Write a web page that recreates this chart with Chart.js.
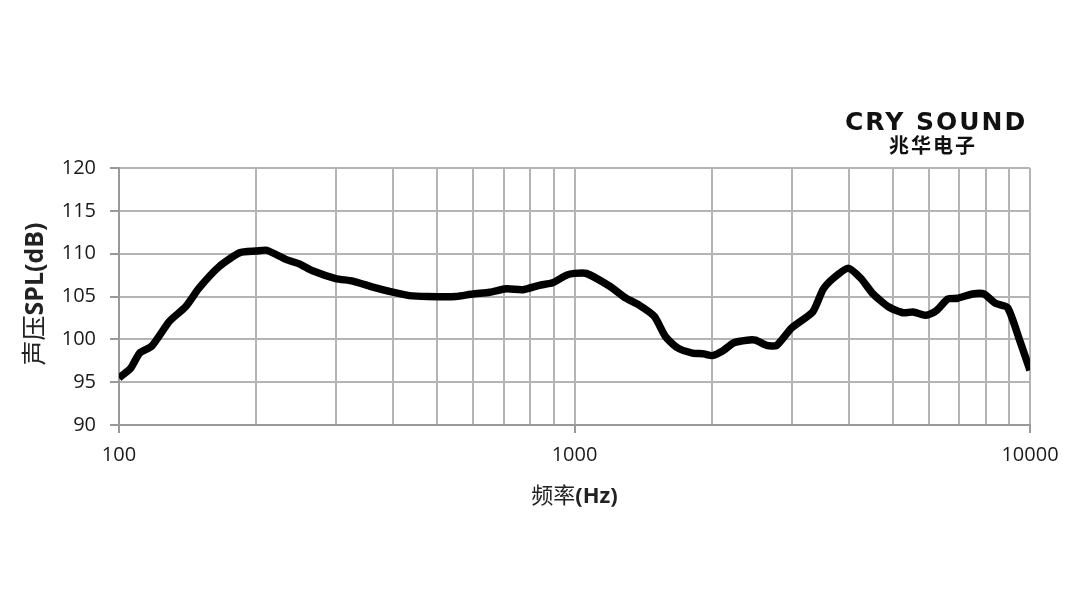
<!DOCTYPE html>
<html>
<head>
<meta charset="utf-8">
<script src="https://cdn.jsdelivr.net/npm/chart.js@4/dist/chart.umd.min.js"></script>
<style>
  html, body { margin: 0; padding: 0; background: #fff; }
  #wrap { position: relative; width: 1078px; height: 602px; }
  .logo1 { position: absolute; left: 845px; top: 107px; font-family: "DejaVu Sans", sans-serif; font-weight: bold;
           font-size: 25px; line-height: 30px; letter-spacing: 2px; color: #111; white-space: nowrap; }
  .logo2 { position: absolute; left: 889px; top: 133px; font-family: "Noto Sans CJK SC", sans-serif; font-weight: bold;
           font-size: 20px; line-height: 24px; letter-spacing: 2px; color: #111; white-space: nowrap; }
</style>
</head>
<body>
<div id="wrap">
  <canvas id="fr" width="1078" height="602"></canvas>
  <div class="logo1">CRY SOUND</div>
  <div class="logo2">兆华电子</div>
</div>
<script>
// frekvencia (Hz) es hangnyomas (dB) ertekek a kepről leolvasva
const freqs = [100, 106, 111, 118, 129, 140, 150, 166, 184, 200, 211, 233, 249, 266, 299, 326, 361, 399, 434, 476,
  549, 598, 651, 708, 770, 837, 895, 961, 1000, 1061, 1195, 1297, 1386, 1496, 1585, 1684, 1815, 1923, 2006, 2109,
  2238, 2393, 2496, 2640, 2780, 2993, 3335, 3511, 3695, 3988, 4256, 4505, 4887, 5270, 5539, 5911, 6215, 6600, 6940,
  7480, 7930, 8400, 8930, 9490, 10000];
const spl = [95.5, 96.6, 98.4, 99.2, 102.1, 103.8, 106.0, 108.5, 110.1, 110.3, 110.4, 109.3, 108.8, 108.0, 107.1, 106.8,
  106.1, 105.5, 105.1, 105.0, 105.0, 105.3, 105.5, 105.9, 105.8, 106.3, 106.6, 107.5, 107.7, 107.7, 106.2, 104.8,
  104.0, 102.7, 100.3, 99.0, 98.4, 98.3, 98.1, 98.6, 99.6, 99.9, 99.9, 99.3, 99.3, 101.3, 103.2, 105.8, 107.1, 108.3,
  107.1, 105.4, 103.8, 103.1, 103.2, 102.8, 103.3, 104.7, 104.8, 105.3, 105.3, 104.2, 103.7, 99.9, 96.4];
const xGrid = [100, 200, 300, 400, 500, 600, 700, 800, 900, 1000, 2000, 3000, 4000, 5000, 6000, 7000, 8000, 9000, 10000];
const xLabels = [100, 1000, 10000];
const yTicks = [90, 95, 100, 105, 110, 115, 120];

const xTitle = [["频率", "normal"], ["(Hz)", "bold"]];
const yTitle = [["声压", "normal"], ["SPL(dB)", "bold"]];

const pontok = freqs.map((f, i) => ({ x: f, y: spl[i] }));

function drawRuns(ctx, runs, size) {
  let w = 0;
  runs.forEach(r => {
    ctx.font = r[1] + " " + size + "px 'Open Sans', 'Noto Sans CJK SC', sans-serif";
    w += ctx.measureText(r[0]).width;
  });
  let x = -w / 2;
  runs.forEach(r => {
    ctx.font = r[1] + " " + size + "px 'Open Sans', 'Noto Sans CJK SC', sans-serif";
    ctx.fillText(r[0], x, 0);
    x += ctx.measureText(r[0]).width;
  });
}

const tengelyCimek = {
  id: "tengelyCimek",
  afterDraw(chart) {
    const ctx = chart.ctx;
    const ca = chart.chartArea;
    ctx.save();
    ctx.fillStyle = "#222";
    ctx.textBaseline = "middle";
    ctx.textAlign = "left";
    ctx.save();
    ctx.translate((ca.left + ca.right) / 2, 497);
    drawRuns(ctx, xTitle, 22);
    ctx.restore();
    ctx.save();
    ctx.translate(36, 294);
    ctx.rotate(-Math.PI / 2);
    drawRuns(ctx, yTitle, 25);
    ctx.restore();
    ctx.restore();
  }
};

new Chart(document.getElementById("fr"), {
  type: "line",
  data: {
    datasets: [{
      data: pontok,
      borderColor: "#000",
      borderWidth: 7.5,
      pointRadius: 0,
      tension: 0.2,
      fill: false
    }]
  },
  options: {
    responsive: false,
    animation: false,
    layout: { padding: { top: 168, right: 48, left: 0, bottom: 0 } },
    plugins: { legend: { display: false }, tooltip: { enabled: false } },
    scales: {
      x: {
        type: "logarithmic",
        min: 100,
        max: 10000,
        afterBuildTicks: s => { s.ticks = xGrid.map(v => ({ value: v })); },
        afterFit: s => { s.height = 177; },
        ticks: {
          autoSkip: false,
          maxRotation: 0,
          padding: 10,
          color: "#1a1a1a",
          font: { family: "'Open Sans', sans-serif", size: 20 },
          callback: v => xLabels.includes(v) ? String(v) : ""
        },
        grid: {
          color: "#b4b4b4",
          lineWidth: 2,
          tickLength: 8,
          tickColor: c => (c.tick && xLabels.includes(c.tick.value)) ? "#999" : "rgba(0,0,0,0)"
        },
        border: { color: "#999", width: 2 }
      },
      y: {
        min: 90,
        max: 120,
        afterBuildTicks: s => { s.ticks = yTicks.map(v => ({ value: v })); },
        afterFit: s => { s.width = 119; },
        ticks: {
          padding: 14,
          color: "#1a1a1a",
          font: { family: "'Open Sans', sans-serif", size: 20 }
        },
        grid: {
          color: "#b4b4b4",
          lineWidth: 2,
          tickLength: 9,
          tickColor: "#999"
        },
        border: { color: "#999", width: 2 }
      }
    }
  },
  plugins: [tengelyCimek]
});
</script>
</body>
</html>
